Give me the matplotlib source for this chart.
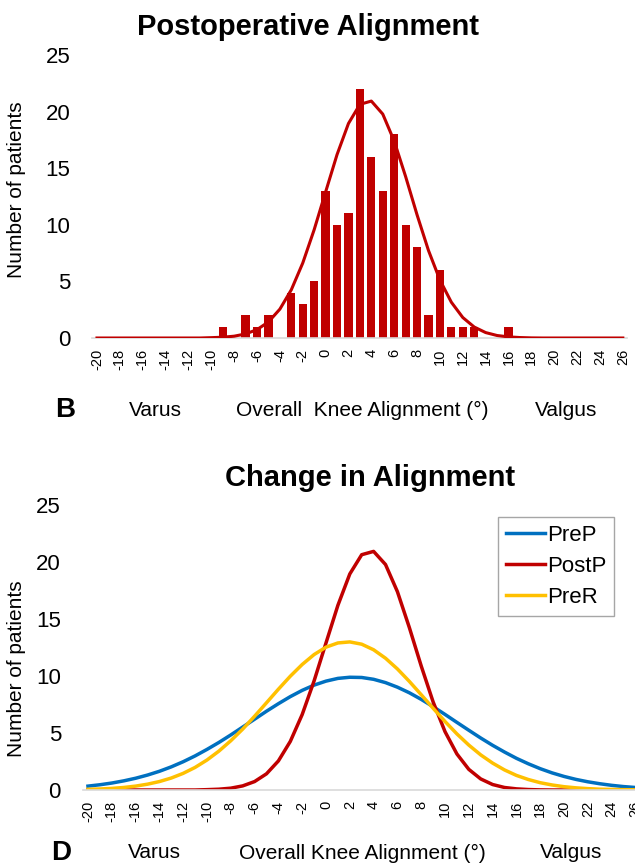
import matplotlib
matplotlib.use('Agg')
import matplotlib.pyplot as plt

plt.rcParams['font.family'] = ['Liberation Sans', 'DejaVu Sans']
plt.rcParams['axes.unicode_minus'] = False

# x categories (degrees), -20 .. 26
degrees = list(range(-20, 27))

# postoperative histogram (degree -> number of patients)
hist_deg = [-9, -7, -6, -5, -3, -2, -1, 0, 1, 2, 3, 4, 5, 6, 7, 8, 9, 10, 11, 12, 13, 16]
hist_cnt = [1, 2, 1, 2, 4, 3, 5, 13, 10, 11, 22, 16, 13, 18, 10, 8, 2, 6, 1, 1, 1, 1]

# fitted curves, one value per degree
postp = [0, 0, 0, 0, 0, 0, 0, 0, 0, 0, 0.03, 0.07, 0.16, 0.36, 0.74, 1.42, 2.55, 4.26, 6.62,
         9.57, 12.9, 16.2, 18.95, 20.64, 20.93, 19.78, 17.4, 14.26, 10.88, 7.73, 5.12, 3.16,
         1.81, 0.97, 0.48, 0.22, 0.1, 0.04, 0.01, 0, 0, 0, 0, 0, 0, 0, 0]
prep = [0.34, 0.46, 0.61, 0.8, 1.03, 1.31, 1.64, 2.03, 2.48, 2.99, 3.56, 4.17, 4.83, 5.52,
        6.21, 6.91, 7.57, 8.19, 8.74, 9.2, 9.55, 9.79, 9.89, 9.87, 9.71, 9.42, 9.02, 8.53,
        7.95, 7.31, 6.63, 5.93, 5.24, 4.56, 3.92, 3.33, 2.78, 2.3, 1.87, 1.5, 1.19, 0.93,
        0.72, 0.55, 0.41, 0.3, 0.22]
prer = [0.06, 0.09, 0.14, 0.22, 0.34, 0.51, 0.74, 1.05, 1.46, 1.98, 2.63, 3.41, 4.32, 5.34,
        6.47, 7.65, 8.84, 9.98, 11.01, 11.88, 12.53, 12.9, 12.99, 12.79, 12.3, 11.56, 10.62,
        9.53, 8.36, 7.17, 6.01, 4.92, 3.94, 3.08, 2.36, 1.76, 1.28, 0.92, 0.64, 0.44, 0.29,
        0.19, 0.12, 0.07, 0.05, 0.03, 0.02]

RED = '#C00000'
BLUE = '#0070C0'
YELLOW = '#FFC000'

fig = plt.figure(figsize=(6.35, 8.68), dpi=100)
W, H = 635.0, 868.0


def style_axis(ax):
    for s in ['top', 'right', 'left']:
        ax.spines[s].set_visible(False)
    ax.spines['bottom'].set_color('#d9d9d9')
    ax.spines['bottom'].set_linewidth(1.2)
    ax.set_xlim(-20.4, 26.4)
    ax.set_ylim(0, 25)
    ax.set_yticks([0, 5, 10, 15, 20, 25])
    ax.set_xticks(degrees[::2])
    ax.set_xticklabels([str(d) for d in degrees[::2]], rotation=90, fontsize=10.5)
    ax.tick_params(axis='y', length=0, pad=16, labelsize=16)
    ax.tick_params(axis='x', length=0, pad=8)


# top panel
ax1 = fig.add_axes([92.4 / W, 1 - 338 / H, 535 / W, 283 / H])
ax1.bar(hist_deg, hist_cnt, width=0.72, color=RED, zorder=2)
ax1.plot(degrees, postp, color=RED, lw=2.2, zorder=3)
style_axis(ax1)

fig.text(17 / W, 1 - 190 / H, 'Number of patients', rotation=90, ha='center', va='center',
         fontsize=15)
fig.text(308 / W, 1 - 27 / H, 'Postoperative Alignment', ha='center', va='center',
         fontsize=21, fontweight='bold')
fig.text(65 / W, 1 - 410 / H, 'B', ha='center', va='center', fontsize=20, fontweight='bold')
fig.text(155 / W, 1 - 410 / H, 'Varus', ha='center', va='center', fontsize=15)
fig.text(362 / W, 1 - 410 / H, 'Overall  Knee Alignment (°)', ha='center', va='center', fontsize=15)
fig.text(566 / W, 1 - 410 / H, 'Valgus', ha='center', va='center', fontsize=15)

# bottom panel
ax2 = fig.add_axes([83.2 / W, 1 - 790 / H, 557 / W, 285 / H])
ax2.plot(degrees, prep, color=BLUE, lw=2.5, label='PreP')
ax2.plot(degrees, postp, color=RED, lw=2.5, label='PostP')
ax2.plot(degrees, prer, color=YELLOW, lw=2.5, label='PreR')
style_axis(ax2)
leg = ax2.legend(loc='upper right', bbox_to_anchor=(614 / W, 1 - 517 / H),
                 bbox_transform=fig.transFigure, borderaxespad=0, fontsize=16,
                 handlelength=1.75, handletextpad=0.1, labelspacing=0.45,
                 fancybox=False, framealpha=1, borderpad=0.35)
leg.get_frame().set_edgecolor('#a6a6a6')
leg.get_frame().set_linewidth(1.0)

fig.text(17 / W, 1 - 669 / H, 'Number of patients', rotation=90, ha='center', va='center',
         fontsize=15)
fig.text(370 / W, 1 - 478 / H, 'Change in Alignment', ha='center', va='center',
         fontsize=21, fontweight='bold')
fig.text(61 / W, 1 - 853 / H, 'D', ha='center', va='center', fontsize=20, fontweight='bold')
fig.text(154 / W, 1 - 853 / H, 'Varus', ha='center', va='center', fontsize=15)
fig.text(362 / W, 1 - 853 / H, 'Overall Knee Alignment (°)', ha='center', va='center', fontsize=15)
fig.text(571 / W, 1 - 853 / H, 'Valgus', ha='center', va='center', fontsize=15)

fig.savefig('out.png', dpi=100)
